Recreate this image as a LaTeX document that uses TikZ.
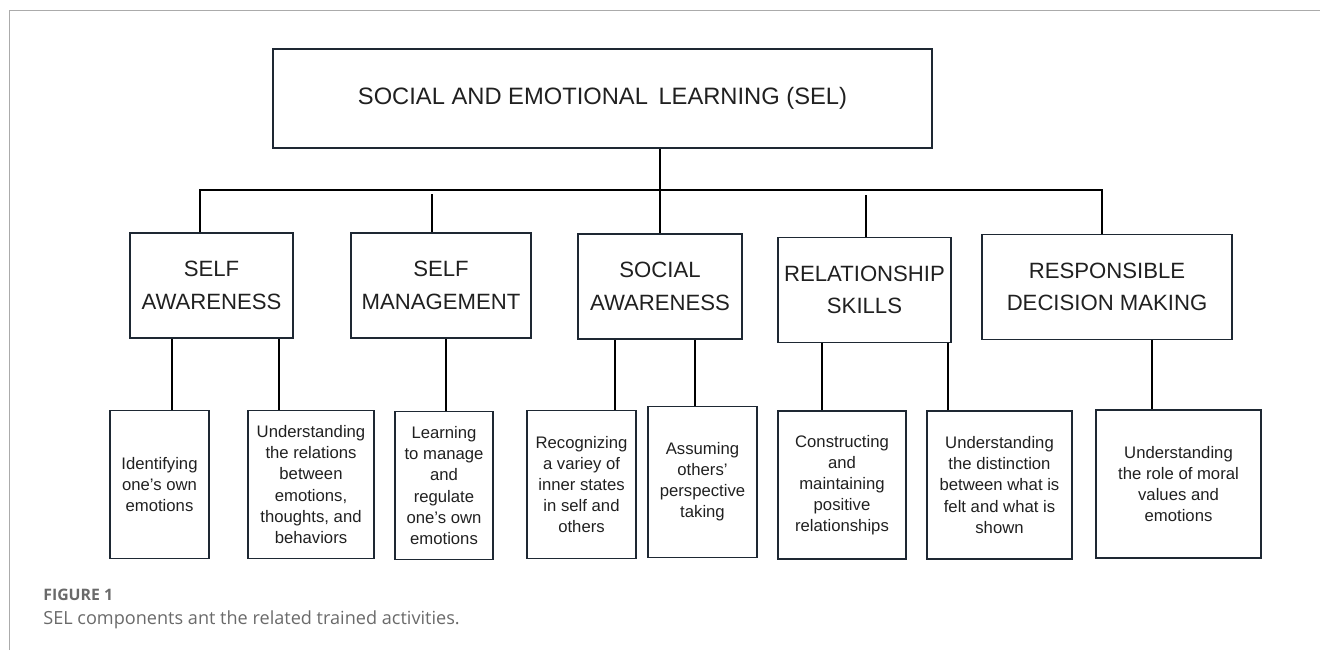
\documentclass[tikz,border=0pt]{standalone}
\usepackage{fontspec}
\setmainfont{Liberation Sans}
\newfontfamily\capfont{Open Sans}
\usetikzlibrary{calc}
\definecolor{boxline}{HTML}{1E2833}
\definecolor{txt}{HTML}{202020}
\definecolor{capgray}{HTML}{6A6A6A}
\definecolor{framegray}{HTML}{ABABAB}
\tikzstyle{mainbox} = [rectangle, draw=boxline, line width=1.1pt, minimum width=131.8mm, minimum height=19.8mm, text=txt, font=\fontsize{13.5}{16}\selectfont]
\tikzstyle{component} = [rectangle, draw=boxline, line width=1.1pt, minimum height=21mm, align=center, text=txt, font=\fontsize{12.6}{18.5}\selectfont]
\tikzstyle{activity} = [rectangle, draw=boxline, line width=1.1pt, minimum height=29.6mm, align=center, text=txt, font=\fontsize{9.5}{12}\selectfont]
\tikzstyle{link} = [line width=0.9pt, black]

\begin{document}
\begin{tikzpicture}[x=0.2mm, y=-0.2mm]
    \useasboundingbox (0,0) rectangle (1320,650);
    \draw [framegray, line width=0.5pt] (9,650) -- (9,10.5) -- (1320,10.5);

    \node (sel) [mainbox] at (602.5,98.5) {SOCIAL AND EMOTIONAL\, LEARNING (SEL)};

    % components
    \node (sa) [component, minimum width=32.6mm] at (211.5,285.5) {SELF\\AWARENESS};
    \node (sm) [component, minimum width=36mm] at (441,285.5) {SELF\\MANAGEMENT};
    \node (soa) [component, minimum width=32.8mm] at (660,286.5) {SOCIAL\\AWARENESS};
    \node (rs) [component, minimum width=33mm] at (864.5,290) {RELATIONSHIP\\SKILLS};
    \node (rdm) [component, minimum width=50mm] at (1107,287) {RESPONSIBLE\\DECISION MAKING};

    % trained activities
    \node (id) [activity, minimum width=19.8mm] at (159.5,484.5) {Identifying\\one’s own\\emotions};
    \node (ur) [activity, minimum width=25.2mm] at (311,484.5) {Understanding\\the relations\\between\\emotions,\\thoughts, and\\behaviors};
    \node (lm) [activity, minimum width=19.6mm] at (444,485.5) {Learning\\to manage\\and\\regulate\\one’s own\\emotions};
    \node (rv) [activity, minimum width=21.8mm] at (581.5,484.5) {Recognizing\\a variey of\\inner states\\in self and\\others};
    \node (ap) [activity, minimum width=21.8mm, minimum height=30.2mm] at (702.5,482) {Assuming\\others’\\perspective\\taking};
    \node (cm) [activity, minimum width=25.6mm] at (842,485) {Constructing\\and\\maintaining\\positive\\relationships};
    \node (ud) [activity, minimum width=29mm] at (999.5,485) {Understanding\\the distinction\\between what is\\felt and what is\\shown};
    \node (ur2) [activity, minimum width=33mm] at (1178.5,484) {Understanding\\the role of moral\\values and\\emotions};

    % tree connectors
    \coordinate (busl) at (200,190);
    \coordinate (busr) at (1102,190);
    \draw [link] (soa.north) -- (soa.north |- sel.south);
    \draw [link] (sa.north -| busl) -- (busl) -- (busr) -- (rdm.north -| busr);
    \draw [link] ($(sm.north)+(-9,0)$) -- ($(sm.north |- busl)+(-9,4)$);
    \draw [link] ($(rs.north)+(1.5,0)$) -- ($(rs.north |- busl)+(1.5,5)$);
    \foreach \from/\to/\dx in {sa/id/12.5, sa/ur/-32, sm/lm/2, soa/rv/33.5, soa/ap/-7.5, rs/cm/-20, rs/ud/-51.5, rdm/ur2/-26.5}
        \draw [link] ($(\to.north)+(\dx,0)$) coordinate (t) -- (t |- \from.south);

    % caption
    \node (fig) [anchor=base west, text=capgray, font=\capfont\bfseries\fontsize{9}{11}\selectfont, inner sep=0pt] at (43,600) {FIGURE 1};
    \node (cap) [anchor=base west, text=capgray, font=\capfont\fontsize{10.3}{12}\selectfont, inner sep=0pt] at (43,624) {SEL components ant the related trained activities.};
\end{tikzpicture}
\end{document}
